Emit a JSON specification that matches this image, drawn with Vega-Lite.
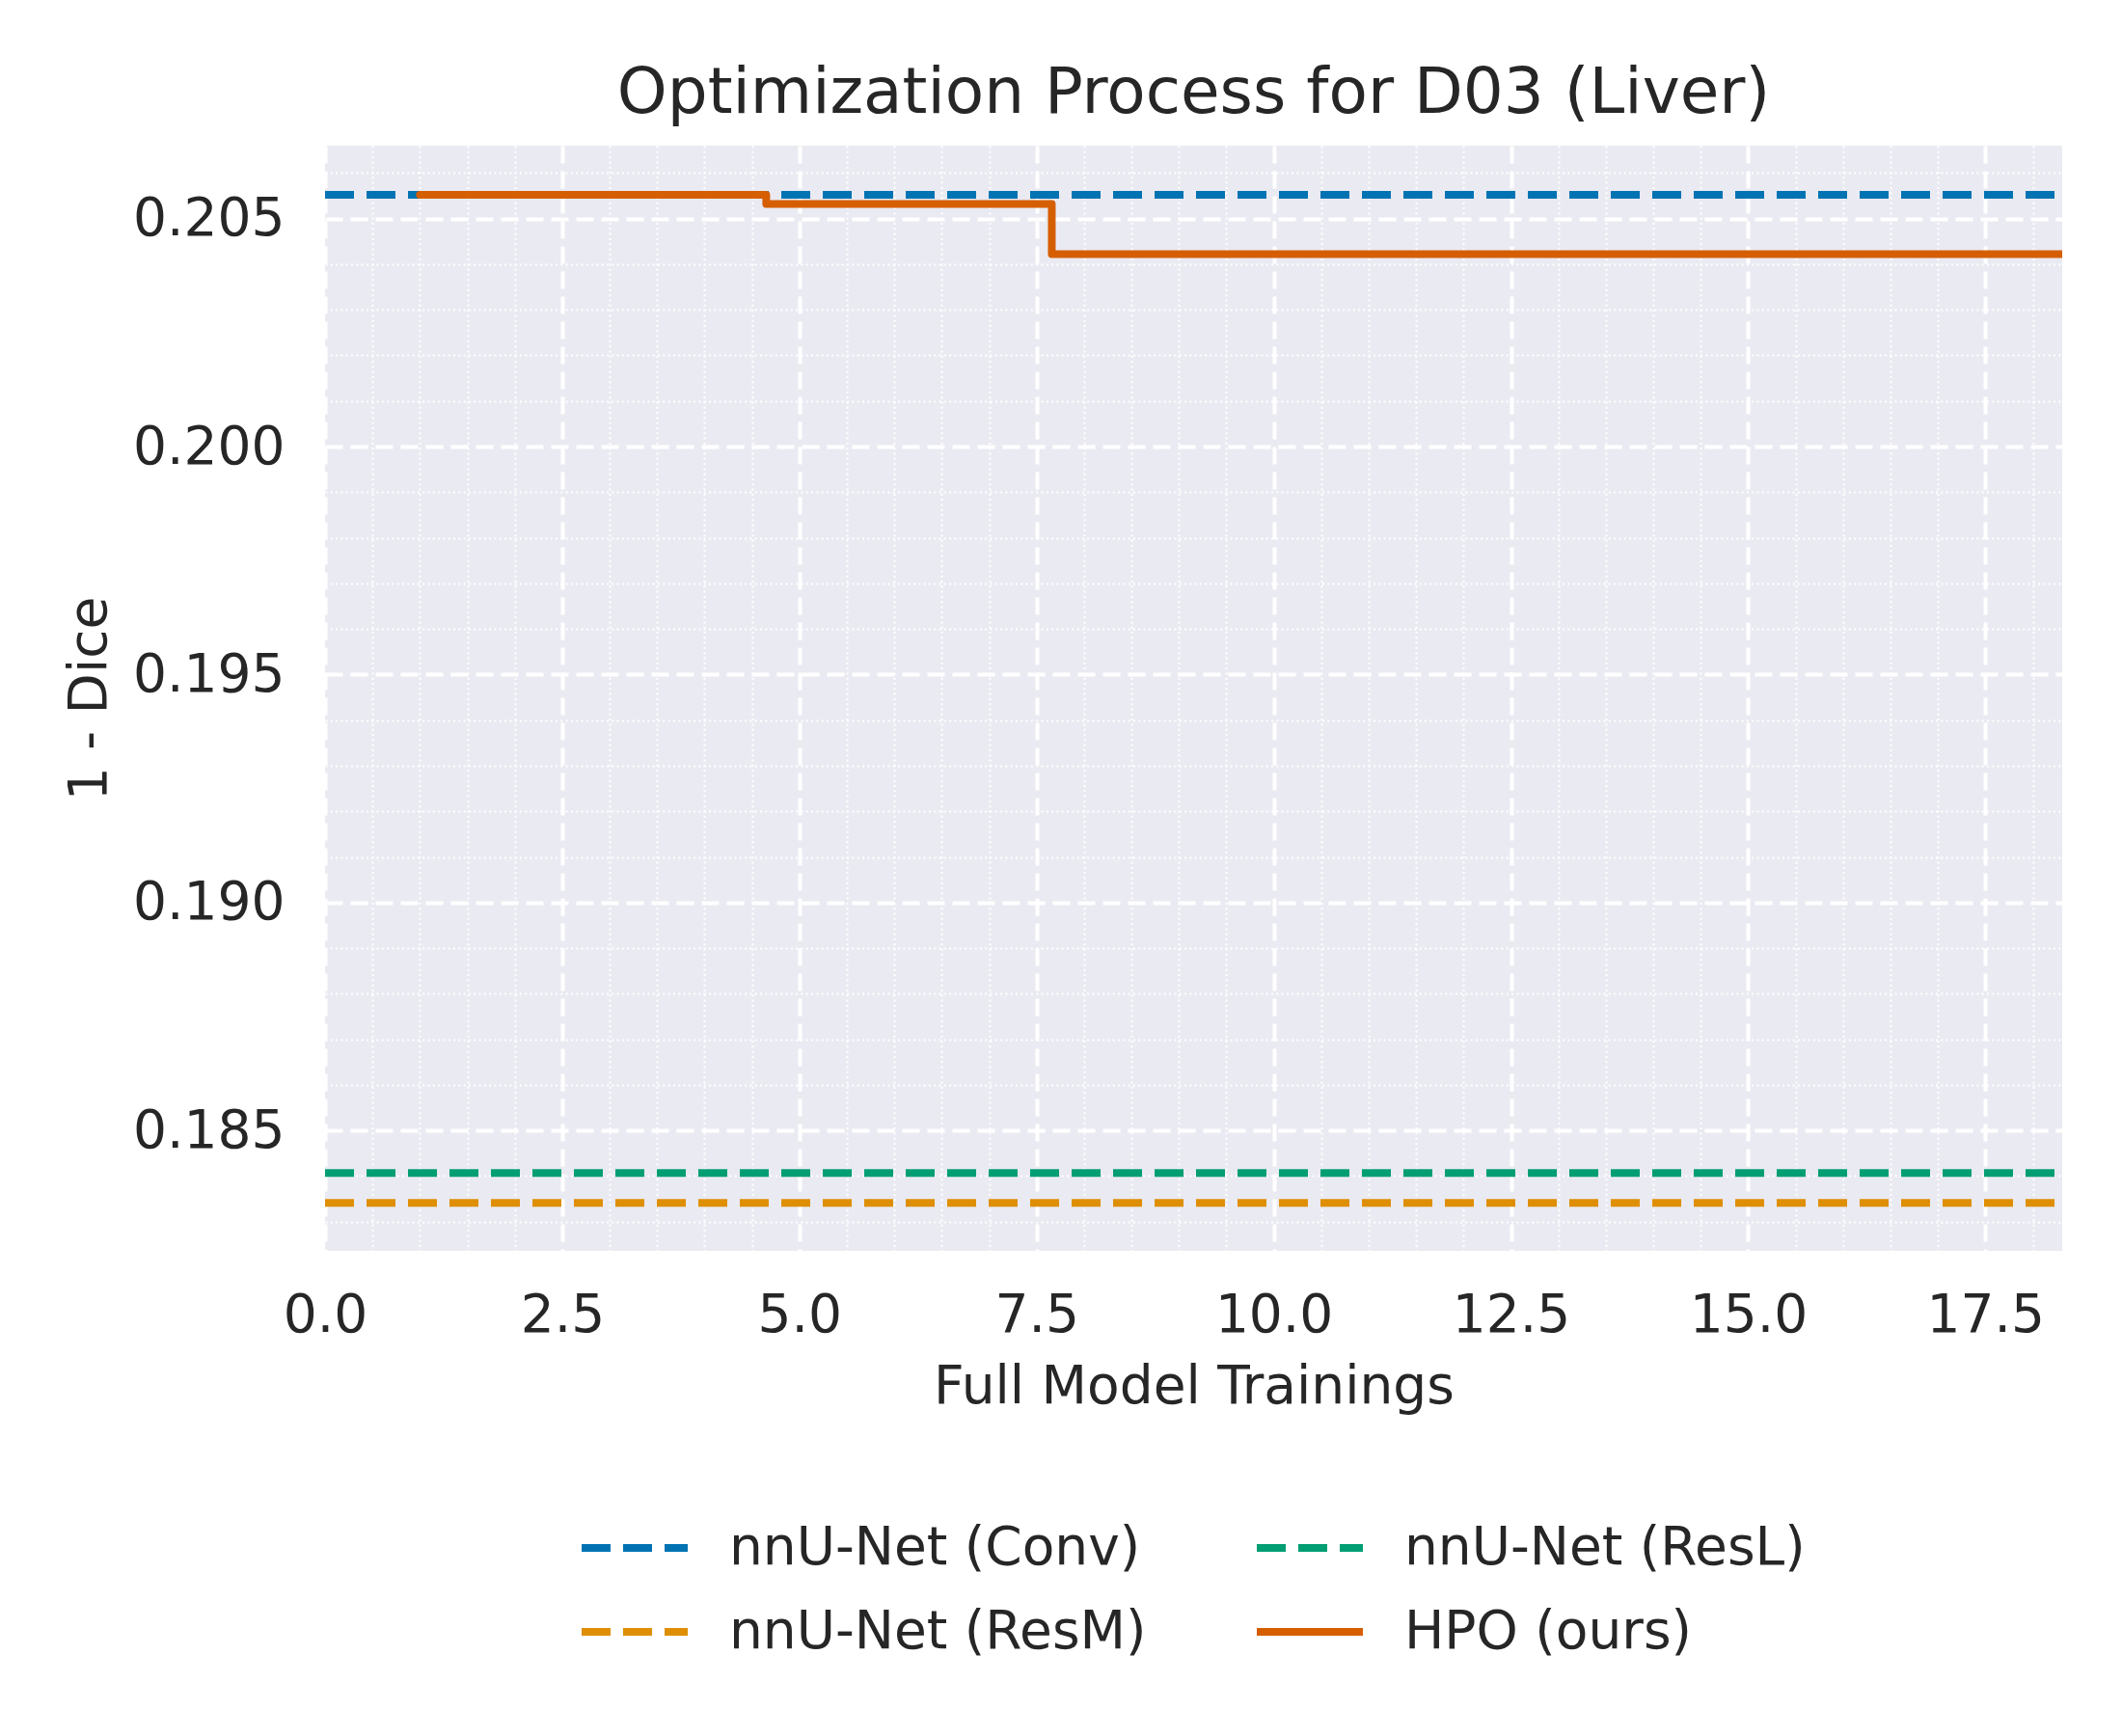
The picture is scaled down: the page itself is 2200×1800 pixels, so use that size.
{
  "$schema": "https://vega.github.io/schema/vega-lite/v6.json",
  "width": 1801,
  "height": 1146,
  "autosize": {"type": "none"},
  "padding": {"left": 337, "top": 151, "right": 62, "bottom": 503},
  "background": "white",
  "title": {"text": "Optimization Process for D03 (Liver)", "fontSize": 66, "font": "DejaVu Sans", "fontWeight": "normal", "color": "#262626", "anchor": "middle", "offset": 20},
  "config": {
    "view": {"fill": "#eaeaf2", "stroke": null},
    "font": "DejaVu Sans",
    "axis": {"domain": false, "ticks": false, "tickSize": 0, "labelFont": "DejaVu Sans", "labelFontSize": 55, "labelColor": "#262626", "titleFont": "DejaVu Sans", "titleFontSize": 55, "titleFontWeight": "normal", "titleColor": "#262626", "gridColor": "#ffffff", "gridOpacity": 1},
    "legend": {"orient": "none", "legendX": 262, "legendY": 1395, "columns": 2, "symbolType": "stroke", "symbolSize": 12100, "symbolStrokeWidth": 8, "labelFont": "DejaVu Sans", "labelFontSize": 55, "labelColor": "#262626", "labelOffset": 39, "columnPadding": 98, "rowPadding": -12, "padding": 0, "labelLimit": 0}
  },
  "datasets": {
    "baselines": [
      {"x": 0, "y": 0.20552, "series": "nnU-Net (Conv)"},
      {"x": 18.31, "y": 0.20552, "series": "nnU-Net (Conv)"},
      {"x": 0, "y": 0.18407, "series": "nnU-Net (ResL)"},
      {"x": 18.31, "y": 0.18407, "series": "nnU-Net (ResL)"},
      {"x": 0, "y": 0.18341, "series": "nnU-Net (ResM)"},
      {"x": 18.31, "y": 0.18341, "series": "nnU-Net (ResM)"}
    ],
    "hpo": [
      {"x": 1, "y": 0.20552, "series": "HPO (ours)"},
      {"x": 4.65, "y": 0.20532, "series": "HPO (ours)"},
      {"x": 7.66, "y": 0.20422, "series": "HPO (ours)"},
      {"x": 18.31, "y": 0.20422, "series": "HPO (ours)"}
    ]
  },
  "layer": [
    {
      "data": {"name": "baselines"},
      "mark": {"type": "line", "strokeWidth": 8, "strokeCap": "butt", "clip": true},
      "encoding": {
        "x": {"field": "x", "type": "quantitative", "scale": {"domain": [0, 18.31], "nice": false, "zero": false},
          "axis": {"orient": "bottom", "values": [0.5,1,1.5,2,3,3.5,4,4.5,5.5,6,6.5,7,8,8.5,9,9.5,10.5,11,11.5,12,13,13.5,14,14.5,15.5,16,16.5,17,18], "grid": true, "gridDash": [2, 3.3], "gridWidth": 2, "labels": false, "title": null}},
        "y": {"field": "y", "type": "quantitative", "scale": {"domain": [0.18236, 0.2066], "nice": false, "zero": false},
          "axis": {"orient": "left", "values": [0.183,0.184,0.186,0.187,0.188,0.189,0.191,0.192,0.193,0.194,0.196,0.197,0.198,0.199,0.201,0.202,0.203,0.204,0.206], "grid": true, "gridDash": [2, 3.3], "gridWidth": 2, "labels": false, "title": null}},
        "color": {"field": "series", "type": "nominal", "scale": {"domain": ["nnU-Net (Conv)", "nnU-Net (ResM)", "nnU-Net (ResL)", "HPO (ours)"], "range": ["#0173b2", "#de8f05", "#029e73", "#d55e00"]}, "legend": {"title": null}},
        "strokeDash": {"field": "series", "type": "nominal", "scale": {"domain": ["nnU-Net (Conv)", "nnU-Net (ResM)", "nnU-Net (ResL)", "HPO (ours)"], "range": [[30, 13], [30, 13], [30, 13], [1, 0]]}, "legend": {"title": null}}
      }
    },
    {
      "data": {"name": "hpo"},
      "mark": {"type": "line", "interpolate": "step-after", "strokeWidth": 8, "strokeCap": "round", "strokeJoin": "round", "clip": true},
      "encoding": {
        "x": {"field": "x", "type": "quantitative", "scale": {"domain": [0, 18.31], "nice": false, "zero": false},
          "axis": {"orient": "bottom", "values": [0, 2.5, 5, 7.5, 10, 12.5, 15, 17.5], "format": ".1f", "grid": true, "gridDash": [18, 8], "gridWidth": 4, "labelPadding": 40, "labelFlush": false, "title": "Full Model Trainings", "titlePadding": 20}},
        "y": {"field": "y", "type": "quantitative", "scale": {"domain": [0.18236, 0.2066], "nice": false, "zero": false},
          "axis": {"orient": "left", "values": [0.185, 0.19, 0.195, 0.2, 0.205], "format": ".3f", "grid": true, "gridDash": [18, 8], "gridWidth": 4, "labelPadding": 42, "title": "1 - Dice", "titlePadding": 16}},
        "color": {"field": "series", "type": "nominal", "legend": {"title": null}},
        "strokeDash": {"field": "series", "type": "nominal", "legend": {"title": null}}
      }
    }
  ],
  "resolve": {"axis": {"x": "independent", "y": "independent"}}
}
